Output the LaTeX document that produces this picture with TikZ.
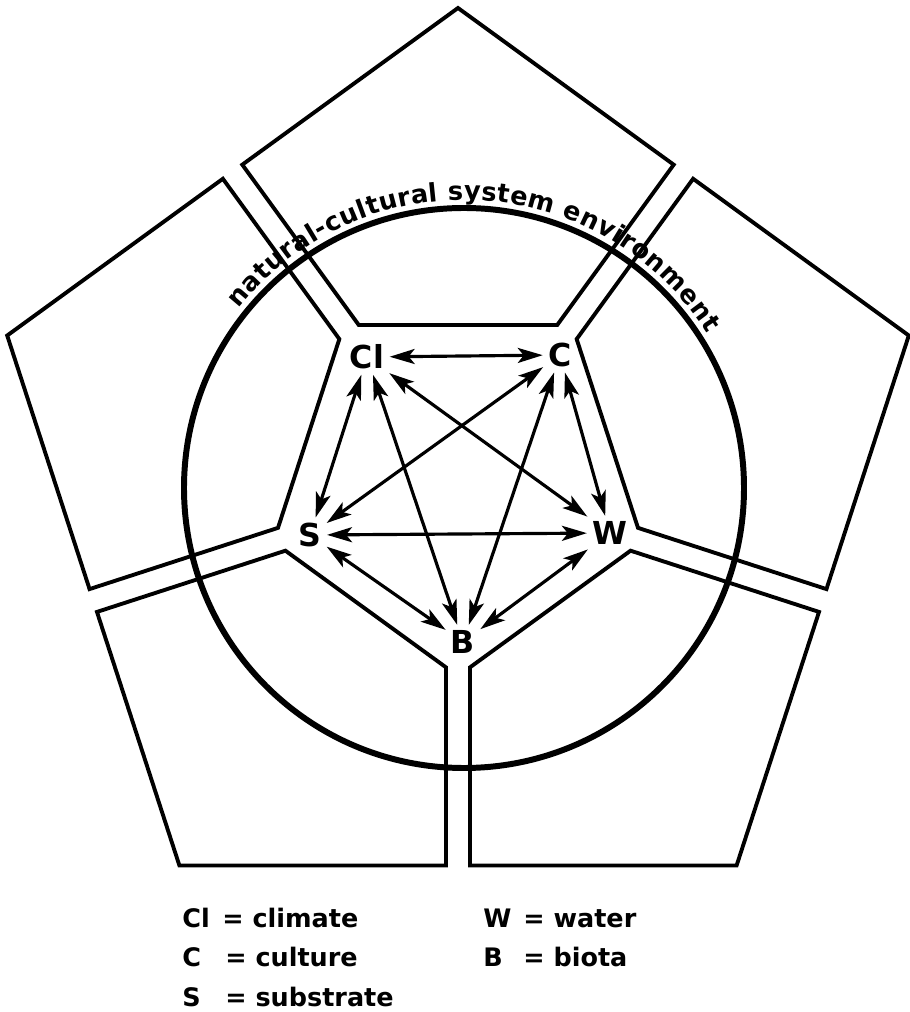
\documentclass[tikz,border=0pt]{standalone}
\usepackage{fontspec}
\setmainfont{DejaVu Sans}
\usetikzlibrary{arrows.meta, calc, decorations.text}

\begin{document}
\begin{tikzpicture}[>={Stealth[length=5mm,width=3mm,inset=1.2mm]},
    piece/.style={draw, line width=2.2pt, line join=miter},
    ring/.style={draw, line width=3.4pt},
    var/.style={font=\fontsize{18}{21}\selectfont\bfseries, inner sep=2pt},
    link/.style={<->, line width=1.8pt, shorten <=1pt, shorten >=1pt},
    key/.style={font=\fontsize{14.5}{17}\selectfont\bfseries, anchor=base west, inner sep=0pt}]
    \useasboundingbox (-9.16,-10.6) rectangle (9.02,9.64);
    \def\R{9.48} \def\Rc{7.67} \def\s{3.707} \def\h{0.24}

    % five pieces round the inner pentagon
    \foreach \a in {90,162,234,306,18}
        \draw[piece] (\a:\R) -- ($(\a-36:\Rc)+(\a+54:\h)$) -- ($(\a-36:\s)+(\a+54:\h)$)
            -- ($(\a+36:\s)+(\a-54:\h)$) -- ($(\a+36:\Rc)+(\a-54:\h)$) -- cycle;

    % environment circle
    \coordinate (O) at (0.12,-0.12);
    \draw[ring] (O) circle[radius=5.6];
    \path[decorate, decoration={text along path,
        text={|\fontsize{14.6}{17}\selectfont\bfseries|natural-cultural system environment},
        text align=center, raise=0.16cm}]
        ($(O)+(144:5.6)$) arc[start angle=144, end angle=30, radius=5.6];

    % nodes
    \node[var] (Cl) at (-1.82,2.50) {Cl};
    \node[var] (C)  at (2.04,2.54) {C};
    \node[var] (W)  at (3.04,-1.02) {W};
    \node[var] (B)  at (0.10,-3.20) {B};
    \node[var] (S)  at (-2.96,-1.06) {S};

    % links
    \foreach \u/\v in {Cl/C, Cl/S, Cl/B, Cl/W, C/S, C/B, C/W, S/W, S/B, W/B}
        \draw[link] (\u) -- (\v);

    % key
    \node[key] (kCl) at (-5.52,-8.90) {\makebox[0.8cm][l]{Cl}= climate};
    \node[key] (kC)  at (-5.52,-9.68) {\makebox[0.86cm][l]{C}= culture};
    \node[key] (kS)  at (-5.52,-10.48) {\makebox[0.86cm][l]{S}= substrate};
    \node[key] (kW)  at (0.50,-8.90) {\makebox[0.8cm][l]{W}= water};
    \node[key] (kB)  at (0.50,-9.68) {\makebox[0.8cm][l]{B}= biota};
\end{tikzpicture}
\end{document}
